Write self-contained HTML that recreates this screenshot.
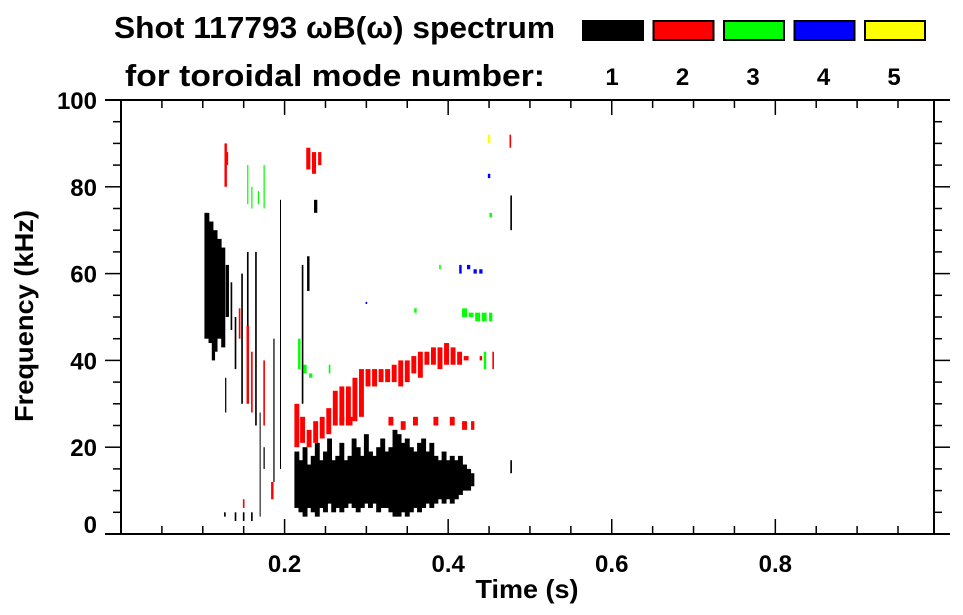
<!DOCTYPE html>
<html><head><meta charset="utf-8"><style>
body{margin:0;background:#fff;width:963px;height:615px;overflow:hidden}
svg{display:block;font-family:"Liberation Sans",sans-serif;font-weight:bold}
</style></head><body>
<svg id="chart" width="963" height="615" viewBox="0 0 963 615">
<text x="114" y="38" font-size="31" textLength="441" lengthAdjust="spacingAndGlyphs">Shot 117793 ωB(ω) spectrum</text>
<text x="125" y="86" font-size="31" textLength="420" lengthAdjust="spacingAndGlyphs">for toroidal mode number:</text>
<g id="legend"></g>
<g id="marks"></g>
<g id="axes" stroke="#000" stroke-width="2"></g>
<text x="527" y="598" font-size="26" text-anchor="middle" textLength="103" lengthAdjust="spacingAndGlyphs">Time (s)</text>
<text transform="translate(33,316) rotate(-90)" font-size="26" text-anchor="middle" textLength="212" lengthAdjust="spacingAndGlyphs">Frequency (kHz)</text>
</svg>
<script>
const xTicks=[0.2,0.4,0.6,0.8];
const yTicks=[0,20,40,60,80,100];
const modeNames=["1","2","3","4","5"];
const modeColors=["#000","#f00","#0f0","#00f","#ff0"];
// each entry: [time, fLow, fHigh, width(s)]
const mode1=[[0.105,45,74,.006],[0.11,44,72,.006],[0.115,42,70,.006],[0.12,45,68,.006],[0.125,43,66,.005],[0.13,50,62,.004],[0.113,40,50,.004],[0.118,58,66,.004],[0.135,47,58,.002],[0.14,38,50,.002],
[0.148,30,60,.002],[0.155,40,65,.002],[0.165,25,65,.002],[0.187,12,45,.0015],[0.195,15,77,.0012],[0.222,30,62,.002],[0.229,56,64,.003],[0.238,74,77,.004],[0.128,28,36,.0015],[0.127,4,5,.002],[0.14,3,5,.002],[0.15,3,5,.002],[0.16,3,5,.002],[0.175,15,20,.0015],[0.17,4,28,.001],
[0.215,6,19,.006],[0.22,5,17,.006],[0.225,4,20,.006],[0.23,6,16,.006],[0.235,5,18,.006],[0.24,4,21,.006],[0.245,6,17,.006],[0.25,5,19,.006],[0.255,7,22,.006],[0.26,5,17,.006],[0.265,6,18,.006],[0.27,5,21,.006],[0.275,6,17,.006],[0.28,7,18,.006],[0.285,6,22,.006],[0.29,5,20,.006],[0.295,6,18,.006],[0.30,7,23,.006],[0.305,6,19,.006],[0.31,7,18,.006],[0.315,5,20,.006],[0.32,6,22,.006],[0.325,6,19,.006],[0.33,5,20,.006],[0.335,4,24,.006],[0.34,4,23,.006],[0.345,5,21,.006],[0.35,4,22,.006],[0.355,5,20,.006],[0.36,6,19,.006],[0.365,5,21,.006],[0.37,6,22,.006],[0.375,7,19,.006],[0.38,6,21,.006],[0.385,7,18,.006],[0.39,8,17,.006],[0.395,7,19,.006],[0.40,8,17,.006],[0.405,7,18,.006],[0.41,8,17,.006],[0.415,9,18,.006],[0.42,10,16,.006],[0.425,10,15,.006],[0.43,11,14,.004],[0.477,14,17,.002],[0.477,70,78,.002]];
const mode2=[[0.128,80,90,.003],[0.13,85,88,.002],[0.145,45,52,.002],[0.155,30,48,.003],[0.16,28,42,.002],[0.175,25,40,.002],[0.185,8,12,.003],[0.15,6,8,.002],
[0.229,84,89,.005],[0.236,83,88,.005],[0.243,85,88,.004],
[0.215,20,30,.006],[0.222,21,27,.006],[0.23,20,24,.006],[0.238,21,26,.006],[0.246,22,27,.006],[0.254,23,29,.006],[0.262,25,33,.006],[0.27,26,34,.006],[0.278,25,34,.006],[0.286,26,36,.006],[0.294,27,38,.006],[0.302,34,38,.006],[0.31,34,38,.006],[0.318,35,38,.006],[0.326,35,38,.006],[0.334,35,39,.006],[0.342,34,40,.006],[0.35,35,40,.006],[0.358,37,41,.006],[0.366,36,42,.006],[0.374,39,42,.006],[0.382,39,43,.006],[0.39,38,43,.006],[0.398,39,44,.006],[0.406,39,43,.006],[0.414,39,42,.006],[0.422,40,41,.006],[0.44,40,41,.003],[0.455,38,42,.002],
[0.27,25,27,.006],[0.28,25,27,.006],[0.33,25,27,.006],[0.345,24,26,.006],[0.36,25,27,.006],[0.385,25,27,.006],[0.405,25,27,.006],[0.42,24,26,.006],[0.43,24,26,.004],[0.476,89,92,.002]];
const mode3=[[0.155,76,85,.0015],[0.16,75,80,.0015],[0.168,76,79,.0015],[0.175,75,85,.0015],[0.218,38,45,.003],[0.225,37,39,.004],[0.232,36,37,.004],[0.255,37,39,.002],[0.36,51,52,.003],[0.39,61,62,.002],[0.42,50,52,.006],[0.428,50,51,.006],[0.436,49,51,.006],[0.444,49,51,.006],[0.452,49,51,.004],[0.445,38,42,.003],[0.452,73,74,.003]];
const mode4=[[0.415,60,62,.003],[0.425,61,62,.004],[0.433,60,61,.004],[0.44,60,61,.004],[0.45,82,83,.003],[0.3,53,53.5,.002]];
const mode5=[[0.45,90,92,.003]];
const series=[mode1,mode2,mode3,mode4,mode5];
const L=121,R=934,T=100,B=534,XR=0.994;
const xs=t=>L+t*(R-L)/XR;
const ys=f=>B-f*(B-T)/100;
const NS="http://www.w3.org/2000/svg";
function mk(tag,attrs,parent){const e=document.createElementNS(NS,tag);for(const k in attrs)e.setAttribute(k,attrs[k]);parent.appendChild(e);return e;}
const marks=document.getElementById('marks');
series.forEach((s,i)=>{s.forEach(d=>{
 const r=mk('rect',{x:xs(d[0]-d[3]/2),y:ys(d[2]),width:Math.max(1,xs(d[3])-L),height:Math.max(1,ys(d[1])-ys(d[2])),fill:modeColors[i]},marks);
 
 
});});
const lg=document.getElementById('legend');
modeNames.forEach((n,i)=>{
 const x=582+i*70.5;
 const r=mk('rect',{x:x+1,y:21,width:60,height:19,fill:modeColors[i],stroke:'#000','stroke-width':2},lg);
 
 
 const t=mk('text',{x:x+30,y:85,'font-size':24,'text-anchor':'middle'},lg);t.textContent=n;
 
 
});
const ax=document.getElementById('axes');
mk('line',{x1:105,y1:T,x2:950,y2:T},ax);
mk('line',{x1:105,y1:B,x2:950,y2:B},ax);
mk('line',{x1:L,y1:T,x2:L,y2:B},ax);
mk('line',{x1:R,y1:T,x2:R,y2:B},ax);
for(let f=0;f<=100;f+=5){const y=ys(f);const maj=f%20===0;
 mk('line',{x1:maj?105:113,y1:y,x2:L,y2:y,'stroke-width':1.5},ax);
 mk('line',{x1:R,y1:y,x2:maj?950:942,y2:y,'stroke-width':1.5},ax);}
for(let t=0.05;t<0.99;t+=0.05){const x=xs(t);const maj=Math.abs(t*5-Math.round(t*5))<1e-6;
 mk('line',{x1:x,y1:B,x2:x,y2:B-(maj?15:8),'stroke-width':1.5},ax);
 mk('line',{x1:x,y1:T,x2:x,y2:T+(maj?15:8),'stroke-width':1.5},ax);}
const svg=document.getElementById('chart');
xTicks.forEach(v=>{const t=mk('text',{x:xs(v),y:572,'font-size':24,'text-anchor':'middle'},svg);t.textContent=v.toFixed(1);
 
 });
yTicks.forEach(v=>{const t=mk('text',{x:97,y:ys(v)+9-(v===0?10:0),'font-size':24,'text-anchor':'end'},svg);t.textContent=v;
 
 });
</script>
</body></html>
